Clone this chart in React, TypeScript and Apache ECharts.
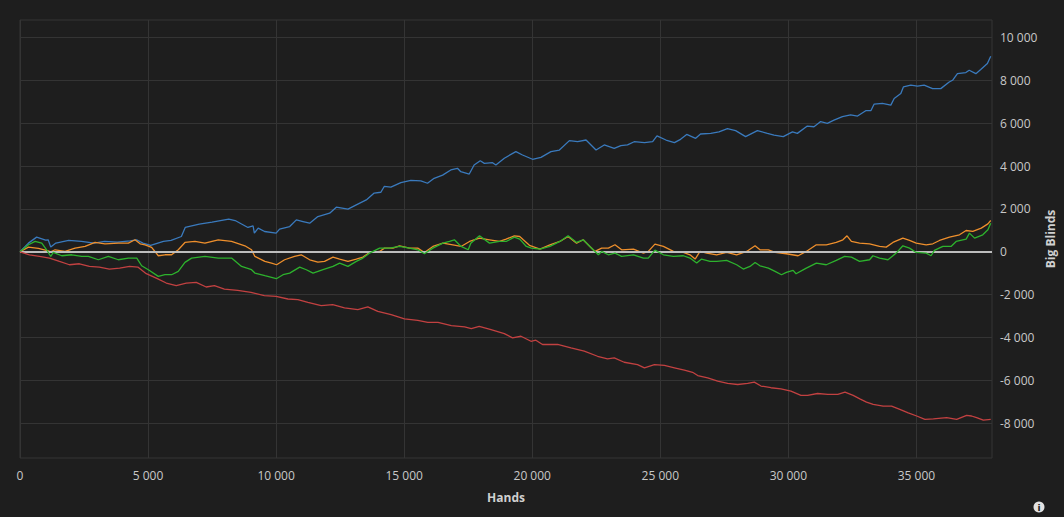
import React, { useEffect, useRef } from "react";
import * as echarts from "echarts";

const xTicks = [0, 5000, 10000, 15000, 20000, 25000, 30000, 35000];
const yTicks = [-8000, -6000, -4000, -2000, 0, 2000, 4000, 6000, 8000, 10000];

const blueLine: [number, number][] = [
  [0, 0], [330, 405], [650, 684], [1000, 544], [1100, 560], [1200, 218], [1400, 405], [1900, 528], [2400, 482],
  [2900, 405], [3300, 482], [3800, 450], [4300, 513], [4550, 560], [4800, 405], [5100, 295], [5600, 482], [5900, 528],
  [6300, 714], [6450, 1134], [7000, 1290], [7500, 1383], [8150, 1523], [8400, 1460], [8900, 1134], [9100, 1212],
  [9150, 870], [9300, 1103], [9550, 947], [10000, 870], [10135, 1056], [10530, 1180], [10790, 1491], [11050, 1413],
  [11310, 1336], [11630, 1647], [12090, 1802], [12350, 2082], [12805, 1989], [13130, 2190], [13520, 2423],
  [13830, 2740], [14090, 2780], [14220, 3050], [14480, 3020], [14870, 3230], [15260, 3330], [15650, 3310],
  [15910, 3200], [16170, 3430], [16500, 3580], [16820, 3820], [17080, 3900], [17210, 3740], [17540, 3630],
  [17730, 4050], [17970, 4250], [18130, 4130], [18450, 4160], [18580, 4050], [18910, 4370], [19360, 4680],
  [19620, 4520], [20010, 4320], [20340, 4410], [20730, 4680], [21060, 4750], [21450, 5190], [21770, 5140],
  [22100, 5220], [22490, 4750], [22810, 4990], [23200, 4830], [23460, 4960], [23720, 4990], [23980, 5140],
  [24380, 5100], [24700, 5140], [24870, 5410], [25220, 5220], [25550, 5100], [25790, 5250], [26030, 5480],
  [26380, 5300], [26570, 5500], [26970, 5530], [27290, 5600], [27620, 5750], [27940, 5660], [28330, 5380],
  [28790, 5660], [29180, 5530], [29440, 5450], [29800, 5380], [30160, 5600], [30350, 5530], [30740, 5870],
  [31000, 5840], [31260, 6080], [31520, 6000], [31780, 6150], [32110, 6310], [32430, 6390], [32700, 6340],
  [33020, 6590], [33220, 6590], [33350, 6900], [33670, 6930], [34000, 6850], [34130, 7160], [34390, 7390],
  [34490, 7700], [34780, 7780], [35040, 7740], [35300, 7780], [35630, 7620], [35950, 7620], [36280, 7930],
  [36410, 8010], [36600, 8320], [36930, 8370], [37060, 8480], [37320, 8320], [37510, 8510], [37770, 8790],
  [37900, 9130],
];

const orangeLine: [number, number][] = [
  [0, 0], [330, 218], [720, 155], [1100, 47], [1200, 0], [1370, 93], [1760, 16], [2150, 171], [2540, 249],
  [2930, 435], [3320, 373], [3840, 404], [4230, 404], [4490, 560], [4690, 373], [4880, 326], [5140, 202],
  [5400, -186], [5660, -140], [5920, -140], [6180, 93], [6440, 435], [6830, 482], [7220, 404], [7740, 560],
  [8260, 482], [8780, 280], [9040, 93], [9170, -218], [9560, -451], [9820, -528], [10020, -606], [10330, -373],
  [10720, -218], [10980, -140], [11310, -373], [11630, -480], [11890, -451], [12220, -249], [12480, -342],
  [12805, -451], [13130, -342], [13390, -249], [13650, -31], [14040, 16], [14230, 171], [14560, 171],
  [14820, 280], [15210, 171], [15530, 171], [15790, -31], [16120, 249], [16510, 404], [16900, 326],
  [17220, 249], [17550, 482], [17940, 637], [18330, 560], [18720, 482], [18980, 590], [19300, 746],
  [19510, 714], [19650, 560], [19890, 300], [20300, 124], [20690, 326], [21080, 482], [21400, 714],
  [21730, 404], [21990, 560], [22250, 249], [22450, 16], [22710, 171], [22970, 171], [23230, 326], [23490, 93],
  [23950, 124], [24340, -62], [24530, 16], [24790, 357], [25120, 249], [25510, 16], [25900, -31], [26160, -140],
  [26360, -342], [26550, 16], [26810, -62], [27200, -140], [27590, -31], [27980, -140], [28370, 16],
  [28700, 280], [28890, 93], [29220, 93], [29480, -31], [29920, -93], [30380, -186], [30700, 16], [31090, 326],
  [31480, 326], [31870, 435], [32130, 560], [32290, 746], [32460, 482], [32780, 404], [33170, 373],
  [33560, 249], [33820, 218], [34080, 435], [34470, 637], [34730, 528], [34990, 404], [35380, 326],
  [35640, 373], [35900, 528], [36290, 684], [36680, 792], [36940, 994], [37200, 948], [37530, 1103],
  [37790, 1305], [37900, 1460],
];

const greenLine: [number, number][] = [
  [0, 0], [330, 326], [590, 482], [850, 404], [1040, 93], [1200, -218], [1300, -31], [1630, -186], [2020, -140],
  [2410, -218], [2670, -218], [3060, -373], [3450, -218], [3840, -373], [4230, -295], [4560, -295], [4750, -653],
  [5010, -839], [5400, -1150], [5660, -1072], [5920, -1072], [6180, -917], [6440, -497], [6700, -295],
  [7220, -218], [7740, -295], [8260, -295], [8650, -684], [9040, -839], [9170, -995], [9560, -1119],
  [10007, -1259], [10270, -1072], [10530, -995], [10920, -715], [11180, -839], [11440, -995], [11830, -839],
  [12220, -684], [12480, -529], [12805, -684], [13130, -451], [13390, -295], [13650, -62], [14040, 171],
  [14430, 171], [14820, 249], [15210, 171], [15530, 93], [15790, -93], [16120, 171], [16510, 404], [16770, 482],
  [16960, 560], [17220, 249], [17500, 93], [17600, 400], [17940, 746], [18330, 404], [18720, 482], [18980, 482],
  [19300, 684], [19510, 590], [19770, 249], [19970, 171], [20300, 124], [20690, 249], [21080, 482],
  [21400, 746], [21730, 435], [21990, 560], [22250, 249], [22580, -140], [22710, 16], [22970, -140],
  [23230, -62], [23490, -218], [23950, -140], [24340, -295], [24530, -295], [24790, 78], [25120, -140],
  [25510, -218], [25900, -186], [26160, -295], [26420, -529], [26610, -342], [26940, -451], [27200, -451],
  [27590, -404], [27980, -606], [28240, -808], [28500, -684], [28700, -497], [28890, -653], [29220, -762],
  [29480, -917], [29730, -1072], [29920, -964], [30185, -870], [30300, -1025], [30700, -762], [31090, -529],
  [31480, -606], [31870, -404], [32195, -218], [32460, -249], [32780, -451], [33170, -373], [33300, -186],
  [33560, -295], [33890, -373], [34210, -62], [34470, 280], [34730, 171], [34990, -31], [35380, -62],
  [35570, -186], [35700, 62], [36030, 249], [36350, 249], [36550, 482], [36940, 590], [37070, 870],
  [37270, 637], [37590, 792], [37790, 1025], [37900, 1336],
];

const redLine: [number, number][] = [
  [0, 0], [370, -140], [760, -218], [1150, -295], [1540, -451], [1930, -606], [2320, -560], [2710, -684],
  [3100, -715], [3490, -808], [3890, -762], [4280, -684], [4600, -715], [4930, -1025], [5320, -1228],
  [5710, -1460], [6100, -1584], [6490, -1460], [6880, -1430], [7270, -1646], [7590, -1584], [7980, -1740],
  [8500, -1802], [9020, -1895], [9540, -2050], [10000, -2082], [10460, -2206], [10850, -2237], [11240, -2361],
  [11760, -2516], [12210, -2470], [12670, -2625], [13190, -2703], [13580, -2578], [13970, -2780],
  [14490, -2936], [15010, -3138], [15530, -3200], [15920, -3293], [16320, -3293], [16840, -3448],
  [17360, -3510], [17620, -3590], [17930, -3480], [18390, -3635], [18910, -3822], [19230, -4020],
  [19560, -3945], [19950, -4180], [20140, -4130], [20400, -4330], [20990, -4330], [21510, -4490],
  [22030, -4640], [22550, -4880], [22940, -5000], [23200, -4960], [23590, -5160], [24110, -5270],
  [24380, -5420], [24770, -5270], [25160, -5310], [25550, -5420], [25940, -5530], [26260, -5630],
  [26460, -5780], [26850, -5890], [27240, -6040], [27630, -6150], [28020, -6200], [28410, -6150],
  [28670, -6090], [28930, -6270], [29320, -6350], [29710, -6400], [30100, -6510], [30490, -6710],
  [30750, -6710], [31140, -6620], [31540, -6660], [31930, -6660], [32210, -6560], [32530, -6710],
  [32790, -6870], [33050, -7020], [33310, -7130], [33700, -7210], [34030, -7210], [34350, -7360],
  [34680, -7520], [35010, -7670], [35330, -7830], [35660, -7800], [36180, -7750], [36570, -7830],
  [36960, -7640], [37150, -7670], [37350, -7750], [37610, -7860], [37900, -7830],
];

const seriesNames = ["Blue", "Orange", "Green", "Red"];
const seriesColors = ["#3a7abd", "#ee8f2c", "#2db22d", "#c24141"];

const fmt = (v: number) => String(Math.round(v)).replace(/\B(?=(\d{3})+(?!\d))/g, " ");

const FONT = "'Open Sans', 'Noto Sans', sans-serif";
const GRID = "#343434";
const LABEL = "#c8c8c8";

export default function App() {
  const ref = useRef<HTMLDivElement>(null);
  useEffect(() => {
    if (!ref.current) return;
    const chart = echarts.init(ref.current, null, { renderer: "svg" });
    const lines = [blueLine, orangeLine, greenLine, redLine];
    chart.setOption({
      animation: false,
      backgroundColor: "#1e1e1e",
      textStyle: { fontFamily: FONT },
      grid: {
        left: 20,
        right: 72,
        top: 20,
        bottom: 59,
        show: true,
        borderColor: GRID,
        borderWidth: 1,
        backgroundColor: "transparent",
        containLabel: false,
        outerBoundsMode: "none",
      },
      xAxis: {
        type: "value",
        min: 0,
        max: 37950,
        interval: 5000,
        position: "bottom",
        axisLine: { show: false },
        axisTick: { show: true, length: 7, lineStyle: { color: GRID }, customValues: xTicks },
        axisLabel: { color: LABEL, fontSize: 12, margin: 11, formatter: fmt, customValues: xTicks, fontFamily: FONT },
        splitLine: { show: true, lineStyle: { color: GRID, width: 1 } },
        name: "Hands",
        nameLocation: "middle",
        nameGap: 33,
        nameMoveOverlap: false,
        nameTextStyle: { color: "#d0d0d0", fontWeight: "bold", fontSize: 12, fontFamily: FONT },
      },
      yAxis: {
        type: "value",
        position: "right",
        min: -9632,
        max: 10825,
        minInterval: 2000,
        maxInterval: 2000,
        axisLine: { show: false },
        axisTick: { show: true, length: 6, lineStyle: { color: GRID }, customValues: yTicks },
        axisLabel: { color: LABEL, fontSize: 12, margin: 8, formatter: fmt, customValues: yTicks, fontFamily: FONT },
        splitLine: { show: true, lineStyle: { color: GRID, width: 1 } },
        name: "Big Blinds",
        nameLocation: "middle",
        nameRotate: 90,
        nameGap: 52,
        nameMoveOverlap: false,
        nameTextStyle: { color: "#d0d0d0", fontWeight: "bold", fontSize: 12, fontFamily: FONT },
      },
      series: lines.map((d, i) => ({
        name: seriesNames[i],
        type: "line",
        data: d,
        showSymbol: false,
        symbol: "none",
        lineStyle: { color: seriesColors[i], width: 1.3 },
        itemStyle: { color: seriesColors[i] },
        z: 3 + i,
        markLine:
          i === 0
            ? {
                silent: true,
                symbol: ["none", "none"],
                label: { show: false },
                lineStyle: { color: "#bdbdbd", width: 2, type: "solid" },
                data: [{ yAxis: 0 }],
              }
            : undefined,
      })),
      graphic: [
        { type: "circle", shape: { cx: 1039, cy: 507, r: 5.5 }, style: { fill: "#e2e2e2" } },
        {
          type: "text",
          x: 1039,
          y: 507.5,
          style: {
            text: "i",
            fill: "#1e1e1e",
            font: "bold 9px 'DejaVu Sans', sans-serif",
            align: "center",
            verticalAlign: "middle",
          },
        },
      ],
    });
    return () => chart.dispose();
  }, []);
  return (
    <div
      ref={ref}
      style={{ position: "fixed", left: 0, top: 0, width: 1064, height: 517, background: "#1e1e1e" }}
    />
  );
}
